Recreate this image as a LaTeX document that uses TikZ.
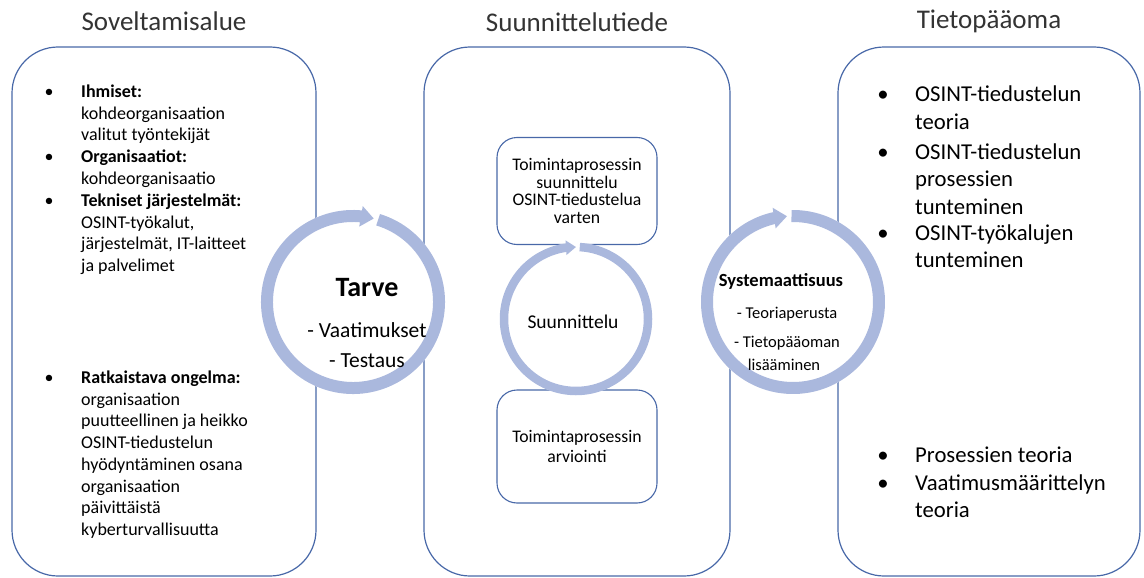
\documentclass[tikz,border=0pt]{standalone}
\usepackage{fontspec}
\setmainfont{Carlito}
\usetikzlibrary{positioning,arrows.meta,bending}

\definecolor{panelblue}{RGB}{72,104,168}
\definecolor{ringblue}{RGB}{170,184,221}

\begin{document}
\begin{tikzpicture}[x=1pt,y=-1pt,
    panel/.style={draw=panelblue,line width=1.2pt,rounded corners=46pt,minimum height=529pt},
    subbox/.style={draw=panelblue,line width=1.1pt,rounded corners=20pt,minimum width=160pt,align=center},
    heading/.style={font=\fontsize{27}{32}\selectfont,text=black!80},
    hub/.style={circle,fill=white,inner sep=0pt},
    ring/.style={draw=ringblue},
    leftlist/.style={anchor=base west,align=left,inner sep=0pt,font=\fontsize{18}{21.7}\selectfont},
    rightlist/.style={anchor=base west,align=left,inner sep=0pt,font=\fontsize{22.7}{27.7}\selectfont},
    dot/.style={anchor=base,inner sep=0pt},
    label/.style={anchor=base,inner sep=0pt}]
  \useasboundingbox (0,0) rectangle (1144,578);
  % panels and headings
  \node[panel,minimum width=304pt] (sov) at (164,311.5) {};
  \node[panel,minimum width=306pt] (suu) at (577,311.5) {};
  \node[panel,minimum width=302pt] (tie) at (989,311.5) {};
  \node[heading] (sovT) at (164,21) {Soveltamisalue};
  \node[heading] (suuT) at (577,22) {Suunnittelutiede};
  \node[heading] (tieT) at (989,21) {Tietopääoma};
  % inner boxes of the middle panel
  \node[subbox,minimum height=107pt,font=\fontsize{17.7}{17.4}\selectfont] (plan) at (577,191)
    {Toimintaprosessin\\suunnittelu\\OSINT-tiedustelua\\varten};
  \node[subbox,minimum height=113pt,font=\fontsize{17.7}{20}\selectfont] (eval) at (577,446.5)
    {Toimintaprosessin\\arviointi};
  % left list (anchored at the baseline of the last line)
  \node[leftlist] (ihm) at (81,140.9) {\textbf{Ihmiset:}\\kohdeorganisaation\\valitut työntekijät};
  \node[leftlist] (org) at (81,184.2) {\textbf{Organisaatiot:}\\kohdeorganisaatio};
  \node[leftlist] (tek) at (81,271.6) {\textbf{Tekniset järjestelmät:}\\OSINT-työkalut,\\järjestelmät, IT-laitteet\\ja palvelimet};
  \node[leftlist] (rat) at (81,535.4) {\textbf{Ratkaistava ongelma:}\\organisaation\\puutteellinen ja heikko\\OSINT-tiedustelun\\hyödyntäminen osana\\organisaation\\päivittäistä\\kyberturvallisuutta};
  \foreach \it/\yy in {ihm/97.5,org/162.5,tek/206.5,rat/383.5}
    \node[dot,font=\fontsize{18}{21.7}\selectfont] (\it-b) at (49,\yy) {•};
  % right list
  \node[rightlist] (teo) at (915,129.7) {OSINT-tiedustelun\\teoria};
  \node[rightlist] (pro) at (915,214.4) {OSINT-tiedustelun\\prosessien\\tunteminen};
  \node[rightlist] (tyo) at (915,267.7) {OSINT-työkalujen\\tunteminen};
  \node[rightlist] (pte) at (915,462) {Prosessien teoria};
  \node[rightlist] (vaa) at (915,517.7) {Vaatimusmäärittelyn\\teoria};
  \foreach \it/\yy in {teo/102,pro/159,tyo/240,pte/462,vaa/490}
    \node[dot,font=\fontsize{22.7}{27.7}\selectfont] (\it-b) at (883,\yy) {•};
  % cycles
  \node[hub,minimum size=184pt] (tarve) at (353,302) {};
  \node[hub,minimum size=152pt] (suun) at (576,319) {};
  \node[hub,minimum size=184pt] (syst) at (793,302) {};
  \foreach \hub/\rad/\wd/\tip/\hw/\hl in {tarve/86/12pt/76/20pt/13pt,suun/72/8.5pt/90/14pt/10pt,syst/86/12pt/94/20pt/13pt}
    \draw[ring,line width=\wd,-{Triangle[width=\hw,length=\hl]}]
      ([shift={(3-\tip:\rad)}]\hub.center) arc[start angle=3-\tip,end angle=360-\tip,radius=\rad];
  % texts inside the cycles
  \node[label,font=\fontsize{28}{32}\selectfont\bfseries] (tarve1) at (367,296) {Tarve};
  \node[label,font=\fontsize{21.5}{25}\selectfont] (tarve2) at (367,337) {- Vaatimukset};
  \node[label,font=\fontsize{21.5}{25}\selectfont] (tarve3) at (367,367) {- Testaus};
  \node[label,font=\fontsize{19.5}{23}\selectfont] (suun1) at (573,328) {Suunnittelu};
  \node[label,font=\fontsize{18.5}{22}\selectfont\bfseries] (syst1) at (781,286) {Systemaattisuus};
  \node[label,font=\fontsize{16.5}{20}\selectfont] (syst2) at (787,318.5) {- Teoriaperusta};
  \node[label,font=\fontsize{16.5}{20}\selectfont] (syst3) at (787,347.5) {- Tietopääoman};
  \node[label,font=\fontsize{16.5}{20}\selectfont] (syst4) at (784,370.5) {lisääminen};
\end{tikzpicture}
\end{document}
